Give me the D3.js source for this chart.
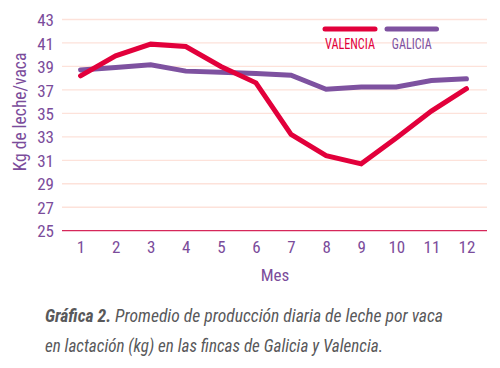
<!DOCTYPE html>
<html>
<head>
<meta charset="utf-8">
<script src="https://cdn.jsdelivr.net/npm/d3@7"></script>
<style>
html,body{margin:0;padding:0;background:#fff;}
svg{display:block;}
text{font-family:"Liberation Sans Narrow","Roboto Condensed","Liberation Sans",sans-serif;}
</style>
</head>
<body>
<svg id="chart" width="500" height="368"></svg>
<script>
const months = [1,2,3,4,5,6,7,8,9,10,11,12];
const valencia = [38.2, 39.9, 40.9, 40.7, 39.0, 37.6, 33.2, 31.4, 30.7, 32.9, 35.2, 37.1];
const galicia  = [38.7, 38.9, 39.15, 38.6, 38.5, 38.4, 38.25, 37.05, 37.25, 37.25, 37.8, 37.95];
const yTicks = [25,27,29,31,33,35,37,39,41,43];
const seriesNames = ["VALENCIA","GALICIA"];
const captionBold = "Gráfica 2.";
const captionLine1 = " Promedio de producción diaria de leche por vaca";
const captionLine2 = "en lactación (kg) en las fincas de Galicia y Valencia.";
const yTitle = "Kg de leche/vaca";
const xTitle = "Mes";

const RED = "#e2003b", PURPLE = "#7e52a0", TXT = "#7b4c9b", GRID = "#fde2da", AXIS = "#d6275a", CAP = "#58585a";

const svg = d3.select("#chart");
const x = d3.scalePoint().domain(months).range([63, 484]).padding(0.5);
const y = d3.scaleLinear().domain([25, 43]).range([230.7, 19.5]);
const gridX0 = 62, gridX1 = 487;

// gridlines
svg.append("g").selectAll("line").data(yTicks.filter(d => d !== 25)).join("line")
  .attr("x1", gridX0).attr("x2", gridX1)
  .attr("y1", d => y(d)).attr("y2", d => y(d))
  .attr("stroke", GRID).attr("stroke-width", 1.3);

// baseline axis
svg.append("line").attr("x1", gridX0).attr("x2", gridX1)
  .attr("y1", y(25)).attr("y2", y(25))
  .attr("stroke", AXIS).attr("stroke-width", 1.3);

// y axis labels
const yAxis = d3.axisLeft(y).tickValues(yTicks).tickSize(0).tickPadding(0);
const gy = svg.append("g").attr("transform", "translate(54,0)").call(yAxis);
gy.select(".domain").remove();
gy.selectAll("text").attr("fill", TXT).attr("font-size", 17).attr("dy", "0.36em")
  .style("font-family", '"Liberation Sans Narrow","Roboto Condensed",sans-serif');

// x axis labels
const xAxis = d3.axisBottom(x).tickSize(0).tickPadding(0);
const gx = svg.append("g").attr("transform", "translate(0,241)").call(xAxis);
gx.select(".domain").remove();
gx.selectAll("text").attr("fill", TXT).attr("font-size", 17).attr("dy", "0.71em")
  .style("font-family", '"Liberation Sans Narrow","Roboto Condensed",sans-serif');

// titles
svg.append("text").attr("x", 275).attr("y", 281).attr("text-anchor", "middle")
  .attr("fill", TXT).attr("font-size", 17).text(xTitle);
svg.append("text").attr("transform", "translate(26,112) rotate(-90)").attr("text-anchor", "middle")
  .attr("fill", TXT).attr("font-size", 17.5).text(yTitle);

// lines
const line = d3.line().x((d, i) => x(months[i])).y(d => y(d));
svg.append("path").datum(galicia).attr("d", line).attr("fill", "none")
  .attr("stroke", PURPLE).attr("stroke-width", 5).attr("stroke-linecap", "round").attr("stroke-linejoin", "miter");
svg.append("path").datum(valencia).attr("d", line).attr("fill", "none")
  .attr("stroke", RED).attr("stroke-width", 5).attr("stroke-linecap", "round").attr("stroke-linejoin", "miter");

// legend
const legend = [
  {name: seriesNames[0], color: RED, x1: 325, x2: 375, w: 50},
  {name: seriesNames[1], color: PURPLE, x1: 387, x2: 436.5, w: 40}
];
legend.forEach(l => {
  svg.append("line").attr("x1", l.x1).attr("x2", l.x2).attr("y1", 29).attr("y2", 29)
    .attr("stroke", l.color).attr("stroke-width", 5).attr("stroke-linecap", "round");
  svg.append("text").attr("x", (l.x1 + l.x2) / 2).attr("y", 48.5).attr("text-anchor", "middle")
    .attr("fill", l.color).attr("font-size", 15)
    .attr("textLength", l.w).attr("lengthAdjust", "spacingAndGlyphs").text(l.name);
});

// caption
const c1 = svg.append("text").attr("x", 45).attr("y", 322).attr("fill", CAP).attr("font-size", 18.5)
  .attr("font-style", "italic").attr("textLength", 398).attr("lengthAdjust", "spacingAndGlyphs");
c1.append("tspan").attr("font-weight", "bold").text(captionBold);
c1.append("tspan").text(captionLine1);
svg.append("text").attr("x", 45).attr("y", 352).attr("fill", CAP).attr("font-size", 18.5)
  .attr("font-style", "italic").attr("textLength", 338).attr("lengthAdjust", "spacingAndGlyphs")
  .text(captionLine2);
</script>
</body>
</html>
